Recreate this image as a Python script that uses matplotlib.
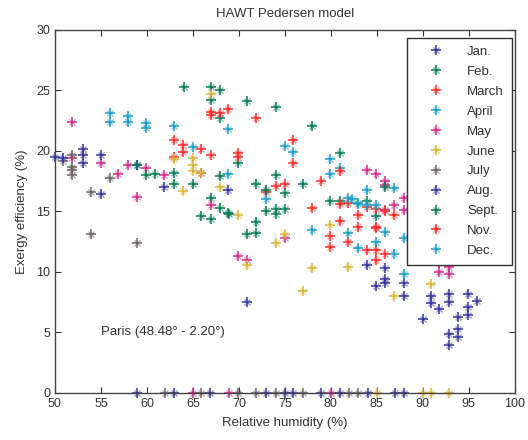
import matplotlib
matplotlib.use('Agg')
import matplotlib.pyplot as plt
from matplotlib.legend_handler import HandlerTuple

plt.rcParams['font.family'] = ['Liberation Sans', 'DejaVu Sans']

# month data: relative humidity (%) and exergy efficiency (%)
jan_x = [83.9, 85.9, 85.9, 85.9, 84.9, 87.9, 87.9, 90.9, 90.9, 91.8, 90.0, 92.9, 92.9,
         94.9, 94.9, 94.9, 95.9, 93.8, 93.8, 93.8, 92.9, 92.9]
jan_y = [10.6, 10.3, 9.4, 9.1, 8.8, 9.1, 8.0, 8.0, 7.4, 6.9, 6.1, 8.2, 7.5,
         8.2, 7.1, 6.4, 7.6, 6.3, 5.3, 4.6, 4.9, 4.0]

feb_x = [64.0, 67.0, 67.0, 67.9, 67.9, 70.9, 74.0, 78.0, 67.0, 67.9, 68.8, 65.9, 67.0,
         67.9, 69.9, 77.0, 81.0, 75.0]
feb_y = [25.3, 25.3, 24.2, 25.0, 22.7, 24.1, 23.6, 22.1, 16.1, 15.3, 14.9, 14.6, 14.4,
         17.9, 19.0, 17.3, 19.8, 16.5]

march_x = [67.0, 67.0, 67.9, 68.8, 71.9, 62.9, 63.9, 63.9, 65.9, 67.0, 62.9, 65.9,
           69.9, 69.9, 75.9, 75.9, 74.0, 75.0, 72.9, 78.9, 78.0]
march_y = [23.2, 23.0, 23.1, 23.5, 22.7, 20.9, 20.5, 19.9, 20.2, 19.7, 19.5, 18.2,
           19.8, 19.5, 20.9, 19.0, 17.1, 17.3, 16.6, 17.5, 15.3]

april_x = [56.0, 56.0, 57.9, 57.9, 59.9, 59.9, 62.9, 68.8, 65.0, 68.8, 75.0, 75.9, 72.9,
           78.0, 79.9, 79.9, 81.0]
april_y = [23.1, 22.4, 22.9, 22.4, 22.3, 21.9, 22.1, 21.8, 20.3, 18.1, 20.4, 19.9, 16.0,
           13.5, 19.3, 18.1, 18.6]

may_x = [51.9, 51.9, 55.0, 56.9, 57.9, 59.9, 61.9, 58.9, 67.0, 69.9, 70.9, 75.0, 83.9,
         84.9, 85.9, 85.9, 86.9, 85.9, 87.9, 87.9, 91.8, 91.8, 92.9, 92.9, 65.0, 68.9, 80.0]
may_y = [22.4, 19.4, 19.0, 18.1, 18.8, 18.6, 18.0, 16.2, 15.5, 11.3, 11.0, 12.8, 18.4,
         18.1, 17.5, 17.2, 15.5, 15.1, 16.1, 15.1, 10.7, 10.0, 10.4, 9.8, 0, 0, 0]

june_x = [67.0, 62.9, 65.0, 65.0, 65.0, 65.9, 63.9, 67.9, 69.9, 70.9, 75.0, 74.0, 79.9,
          78.0, 77.0, 81.9, 86.9, 90.9, 85.0, 90.0, 90.9, 92.9]
june_y = [24.7, 19.3, 19.4, 18.8, 18.3, 18.2, 16.7, 17.0, 14.7, 10.6, 13.1, 12.4, 13.9,
          10.3, 8.4, 10.4, 8.0, 9.0, 0, 0, 0, 0]

july_x = [50.9, 51.9, 51.9, 51.9, 51.9, 56.0, 53.9, 53.9, 58.9,
          62.0, 65.9, 69.9, 71.9, 74.0, 77.0, 82.0, 83.0]
july_y = [19.2, 19.7, 18.7, 18.4, 18.0, 17.8, 16.6, 13.1, 12.4,
          0, 0, 0, 0, 0, 0, 0, 0]

aug_x = [50.0, 50.9, 53.0, 53.0, 53.0, 55.0, 55.0, 58.9, 61.9, 68.8, 70.9,
         58.9, 62.9, 66.9, 72.9, 75.0, 75.9, 78.9, 81.0, 84.0, 87.0, 87.9]
aug_y = [19.5, 19.4, 20.2, 19.7, 19.0, 19.7, 16.4, 18.8, 17.0, 16.8, 7.5,
         0, 0, 0, 0, 0, 0, 0, 0, 0, 0, 0]

sept_x = [58.9, 59.9, 60.9, 62.9, 62.9, 65.0, 70.9, 71.9, 71.9, 72.9, 74.0, 74.0, 74.0,
          72.9, 75.0, 71.9, 79.9, 81.0, 83.9, 84.9, 85.9, 68.9]
sept_y = [18.8, 18.0, 18.1, 18.2, 17.3, 17.3, 13.1, 13.2, 17.3, 16.8, 18.0, 15.2, 14.8,
          15.0, 15.2, 14.1, 15.9, 15.9, 15.9, 14.6, 17.0, 14.8]

nov_x = [81.0, 81.0, 81.9, 84.9, 83.0, 86.9, 85.9, 81.0, 83.0, 84.9, 79.9, 79.9, 81.9,
         83.9, 84.9, 83.9, 84.9, 84.9, 85.9, 88.9, 89.9, 90.9]
nov_y = [18.3, 15.6, 15.7, 15.2, 14.7, 14.7, 15.0, 14.2, 13.7, 13.7, 13.0, 12.1, 12.5,
         15.4, 13.6, 11.8, 11.8, 11.0, 11.5, 10.9, 11.0, 10.9]

dec_x = [81.9, 83.0, 83.9, 84.9, 83.9, 86.9, 82.3, 82.9, 81.9, 82.9, 84.9, 85.9, 87.9,
         86.9, 87.9]
dec_y = [16.1, 15.6, 15.5, 15.5, 16.8, 16.9, 16.0, 15.7, 13.2, 12.0, 12.5, 13.3, 12.8,
         11.5, 9.8]

months = ['Jan.', 'Feb.', 'March', 'April', 'May', 'June', 'July', 'Aug.', 'Sept.', 'Nov.', 'Dec.']
xs = [jan_x, feb_x, march_x, april_x, may_x, june_x, july_x, aug_x, sept_x, nov_x, dec_x]
ys = [jan_y, feb_y, march_y, april_y, may_y, june_y, july_y, aug_y, sept_y, nov_y, dec_y]
colors = ['#34349c', '#067a55', '#fa2a2a', '#1a9cc4', '#d22a86', '#d6b63a', '#6e6464',
          '#34349c', '#067a55', '#fa2a2a', '#1a9cc4']

fig = plt.figure(figsize=(5.28, 4.4), dpi=100)
ax = fig.add_axes([0.104, 0.107, 0.871, 0.825])

handles = []
for x, y, c in zip(xs, ys, colors):
    h1, = ax.plot(x, y, '+', color=c, ms=6.5, mew=1.1, clip_on=False)
    h2, = ax.plot(x, y, 'x', color=c, ms=3.8, mew=1.0, alpha=0.5, clip_on=False)
    handles.append((h1, h2))

ax.set_xlim(50, 100)
ax.set_ylim(0, 30)
ax.set_xticks(range(50, 101, 5))
ax.set_yticks(range(0, 31, 5))
ax.tick_params(direction='in', top=True, right=True, length=4, labelsize=9,
               colors='#333333', width=0.8)
for s in ax.spines.values():
    s.set_color('#444444')
    s.set_linewidth(1.0)

ax.set_title('HAWT Pedersen model', fontsize=9.5, color='#333333', pad=9)
ax.set_xlabel('Relative humidity (%)', fontsize=9.5, color='#333333', labelpad=5)
ax.set_ylabel('Exergy efficiency (%)', fontsize=9.5, color='#333333', labelpad=6)

ax.text(55.0, 5.0, 'Paris (48.48° - 2.20°)', fontsize=9.5, color='#333333', va='center')

leg = ax.legend(handles, months, handler_map={tuple: HandlerTuple(ndivide=1)},
                loc='upper right', bbox_to_anchor=(0.9935, 0.978), fontsize=9.5,
                fancybox=False, framealpha=1, edgecolor='#333333',
                labelspacing=0.58, handlelength=3.2, handletextpad=0.75,
                borderpad=0.6, borderaxespad=0)
leg.get_frame().set_linewidth(1.0)
for t in leg.get_texts():
    t.set_color('#333333')

fig.savefig('out.png', dpi=100)
